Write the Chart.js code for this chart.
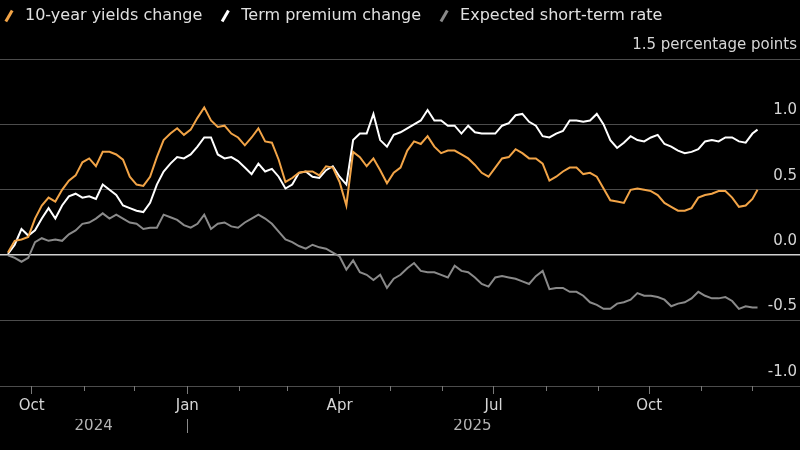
<!DOCTYPE html>
<html>
<head>
<meta charset="utf-8">
<script src="https://cdn.jsdelivr.net/npm/chart.js@4.4.1/dist/chart.umd.min.js"></script>
<style>
  html, body { margin: 0; padding: 0; background: #000; }
  canvas { display: block; }
</style>
</head>
<body>
<canvas id="yieldsChart" width="800" height="450"></canvas>
<script>
// days since 2024-10-01, one reading about every 4 days
const dayOffsets = [
  -14, -10, -6, -2, 2, 6, 10, 14, 18, 22,
  26, 30, 34, 38, 42, 46, 50, 54, 58, 62,
  66, 70, 74, 78, 82, 86, 90, 94, 98, 102,
  106, 110, 114, 118, 122, 126, 130, 134, 138, 142,
  146, 150, 154, 158, 162, 166, 170, 174, 178, 182,
  186, 190, 194, 198, 202, 206, 210, 214, 218, 222,
  226, 230, 234, 238, 242, 246, 250, 254, 258, 262,
  266, 270, 274, 278, 282, 286, 290, 294, 298, 302,
  306, 310, 314, 318, 322, 326, 330, 334, 338, 342,
  346, 350, 354, 358, 362, 366, 370, 374, 378, 382,
  386, 390, 394, 398, 402, 406, 410, 414, 418, 422,
  426, 429
];

const yieldsChange = [
  0.02, 0.11, 0.12, 0.14, 0.28, 0.38, 0.44, 0.41, 0.50, 0.57,
  0.61, 0.71, 0.74, 0.68, 0.79, 0.79, 0.77, 0.73, 0.60, 0.54,
  0.53, 0.60, 0.75, 0.88, 0.93, 0.97, 0.92, 0.96, 1.05, 1.13,
  1.03, 0.98, 0.99, 0.93, 0.90, 0.84, 0.90, 0.97, 0.87, 0.86,
  0.73, 0.56, 0.59, 0.63, 0.64, 0.64, 0.61, 0.68, 0.67, 0.56,
  0.38, 0.79, 0.75, 0.68, 0.74, 0.65, 0.55, 0.63, 0.67, 0.80,
  0.87, 0.85, 0.91, 0.83, 0.78, 0.80, 0.80, 0.77, 0.74, 0.69,
  0.63, 0.60, 0.67, 0.74, 0.75, 0.81, 0.78, 0.74, 0.74, 0.70,
  0.57, 0.60, 0.64, 0.67, 0.67, 0.62, 0.63, 0.60, 0.51, 0.42,
  0.41, 0.40, 0.50, 0.51, 0.50, 0.49, 0.46, 0.40, 0.37, 0.34,
  0.34, 0.36, 0.44, 0.46, 0.47, 0.49, 0.49, 0.44, 0.37, 0.38,
  0.43, 0.50
];

const termPremium = [
  0.01, 0.08, 0.20, 0.15, 0.19, 0.28, 0.36, 0.28, 0.38, 0.45,
  0.47, 0.44, 0.45, 0.43, 0.54, 0.50, 0.46, 0.38, 0.36, 0.34,
  0.33, 0.40, 0.54, 0.64, 0.70, 0.75, 0.74, 0.77, 0.83, 0.90,
  0.90, 0.77, 0.74, 0.75, 0.72, 0.67, 0.62, 0.70, 0.64, 0.66,
  0.60, 0.51, 0.54, 0.63, 0.64, 0.60, 0.59, 0.65, 0.68, 0.60,
  0.54, 0.88, 0.93, 0.93, 1.08, 0.88, 0.83, 0.92, 0.94, 0.97,
  1.00, 1.03, 1.11, 1.03, 1.03, 0.99, 0.99, 0.93, 0.99, 0.94,
  0.93, 0.93, 0.93, 0.99, 1.01, 1.07, 1.08, 1.02, 0.99, 0.91,
  0.90, 0.93, 0.95, 1.03, 1.03, 1.02, 1.03, 1.08, 1.00, 0.88,
  0.82, 0.86, 0.91, 0.88, 0.87, 0.90, 0.92, 0.85, 0.83, 0.80,
  0.78, 0.79, 0.81, 0.87, 0.88, 0.87, 0.90, 0.90, 0.87, 0.86,
  0.93, 0.96
];

const shortRate = [
  0.00, -0.02, -0.05, -0.02, 0.10, 0.13, 0.11, 0.12, 0.11, 0.16,
  0.19, 0.24, 0.25, 0.28, 0.32, 0.28, 0.31, 0.28, 0.25, 0.24,
  0.20, 0.21, 0.21, 0.31, 0.29, 0.27, 0.23, 0.21, 0.24, 0.31,
  0.20, 0.24, 0.25, 0.22, 0.21, 0.25, 0.28, 0.31, 0.28, 0.24,
  0.18, 0.12, 0.10, 0.07, 0.05, 0.08, 0.06, 0.05, 0.02, -0.01,
  -0.11, -0.04, -0.13, -0.15, -0.19, -0.15, -0.25, -0.18, -0.15, -0.10,
  -0.06, -0.12, -0.13, -0.13, -0.15, -0.17, -0.08, -0.12, -0.13, -0.17,
  -0.22, -0.24, -0.17, -0.16, -0.17, -0.18, -0.20, -0.22, -0.16, -0.12,
  -0.26, -0.25, -0.25, -0.28, -0.28, -0.31, -0.36, -0.38, -0.41, -0.41,
  -0.37, -0.36, -0.34, -0.29, -0.31, -0.31, -0.32, -0.34, -0.39, -0.37,
  -0.36, -0.33, -0.28, -0.31, -0.33, -0.33, -0.32, -0.35, -0.41, -0.39,
  -0.40, -0.40
];

const seriesLabels = ['10-year yields change', 'Term premium change', 'Expected short-term rate'];
const seriesColors = ['#f2a447', '#ffffff', '#8a8a8a'];

// month starts, days since 2024-10-01
const monthDays = [0, 31, 61, 92, 123, 151, 182, 212, 243, 273, 304, 335, 365, 396, 426];
const monthLabels = ['Oct', '', '', 'Jan', '', '', 'Apr', '', '', 'Jul', '', '', 'Oct', '', ''];
const yearLabels = ['2024', '2025'];
const yearStart = 92; // 2025-01-01
const yTicks = [-1, -0.5, 0, 0.5, 1, 1.5];

const xMin = -18.7;
const xMax = 454.1;
const lastDay = dayOffsets[dayOffsets.length - 1];

Chart.defaults.font.family = "'DejaVu Sans', sans-serif";

const datasets = [yieldsChange, termPremium, shortRate].map((vals, i) => ({
  label: seriesLabels[i],
  data: vals.map((v, j) => ({ x: dayOffsets[j], y: v })),
  borderColor: seriesColors[i],
  borderWidth: 2,
  pointRadius: 0,
  pointHoverRadius: 0,
  pointStyle: 'line',
  pointRotation: -60,
  pointBorderWidth: 3,
  pointBorderColor: seriesColors[i],
  tension: 0
}));

// move the legend up/left so it sits like the original header
const legendNudge = {
  id: 'legendNudge',
  afterLayout(chart) {
    chart.legend.left -= 14;
    chart.legend.top -= 25;
  }
};

new Chart(document.getElementById('yieldsChart'), {
  type: 'line',
  data: { datasets: datasets },
  plugins: [legendNudge],
  options: {
    responsive: false,
    animation: false,
    layout: { padding: { top: 18, left: 0, right: 0, bottom: 0 } },
    plugins: {
      legend: {
        position: 'top',
        align: 'start',
        labels: {
          color: '#e0e0e0',
          font: { size: 16 },
          usePointStyle: true,
          boxWidth: 16,
          boxHeight: 9,
          padding: 15
        }
      },
      tooltip: { enabled: false }
    },
    scales: {
      y: {
        position: 'right',
        min: -1,
        max: 1.5,
        afterBuildTicks: s => { s.ticks = yTicks.map(v => ({ value: v })); },
        afterFit: s => { s.width = 0; },
        border: { display: false },
        grid: {
          drawTicks: false,
          color: c => c.tick.value === 0 ? '#d0d0d0' : '#4c4c4c',
          lineWidth: c => c.tick.value === 0 ? 1.5 : 1
        },
        ticks: {
          mirror: true,
          padding: -3,
          labelOffset: -14,
          color: '#d6d6d6',
          font: { size: 15 },
          callback: v => v === 1.5 ? '1.5 percentage points' : v.toFixed(1)
        }
      },
      x: {
        type: 'linear',
        min: xMin,
        max: xMax,
        bounds: 'data',
        afterBuildTicks: s => { s.ticks = monthDays.map(v => ({ value: v })); },
        afterFit: s => { s.height = 33; },
        border: { display: false },
        grid: { drawOnChartArea: false, tickLength: 5, tickColor: '#7a7a7a' },
        ticks: {
          autoSkip: false,
          maxRotation: 0,
          padding: 6,
          color: '#d6d6d6',
          font: { size: 15 },
          callback: (v, i) => monthLabels[i]
        }
      },
      xMajor: {
        type: 'linear',
        axis: 'x',
        position: { y: -1 },
        min: xMin,
        max: xMax,
        bounds: 'data',
        afterBuildTicks: s => {
          s.ticks = monthDays.filter((d, i) => monthLabels[i]).map(v => ({ value: v }));
        },
        border: { display: false },
        grid: { drawOnChartArea: false, tickLength: 8, tickColor: '#7a7a7a' },
        ticks: { display: false }
      },
      xYear: {
        type: 'linear',
        axis: 'x',
        position: 'bottom',
        min: xMin,
        max: xMax,
        bounds: 'data',
        afterBuildTicks: s => {
          s.ticks = [(xMin + yearStart) / 2, yearStart, (yearStart + lastDay) / 2].map(v => ({ value: v }));
        },
        afterFit: s => { s.height = 31; },
        border: { display: false },
        grid: {
          drawOnChartArea: false,
          tickLength: 14,
          tickColor: c => c.index === 1 ? '#8a8a8a' : 'rgba(0,0,0,0)'
        },
        ticks: {
          autoSkip: false,
          maxRotation: 0,
          padding: -16,
          color: '#b4b4b4',
          font: { size: 15 },
          callback: (v, i) => i === 0 ? yearLabels[0] : (i === 2 ? yearLabels[1] : '')
        }
      }
    }
  }
});
</script>
</body>
</html>
